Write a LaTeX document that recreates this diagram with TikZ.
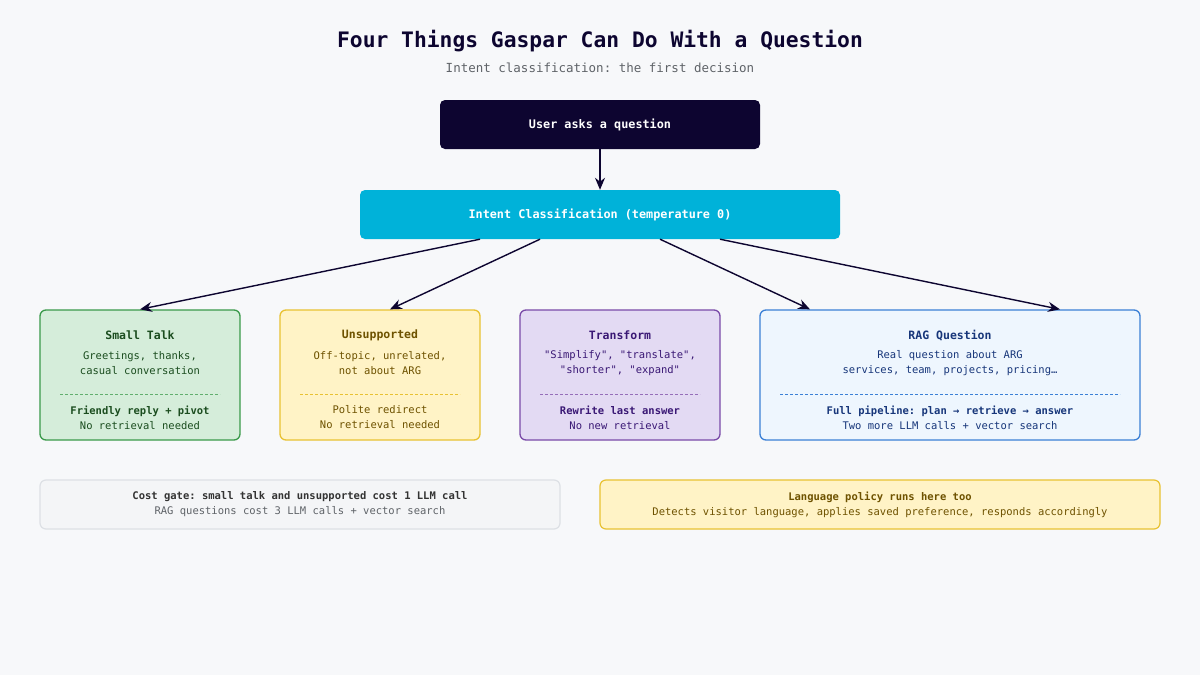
\documentclass[tikz,border=0pt]{standalone}
\usepackage{fontspec}
\setmonofont{DejaVu Sans Mono}
\usetikzlibrary{arrows.meta,calc,positioning}
\definecolor{bgcol}{HTML}{F7F8FA}
\definecolor{navy}{HTML}{0D0530}
\definecolor{cyanbox}{HTML}{00B2D9}
\definecolor{greenfill}{HTML}{D5EDDA}\definecolor{greenline}{HTML}{3A9A4A}\definecolor{greentext}{HTML}{1B4D1F}
\definecolor{yellowfill}{HTML}{FFF3C6}\definecolor{yellowline}{HTML}{E8C232}\definecolor{yellowtext}{HTML}{6E5200}
\definecolor{purplefill}{HTML}{E3DAF3}\definecolor{purpleline}{HTML}{7A4AA8}\definecolor{purpletext}{HTML}{3A1875}
\definecolor{bluefill}{HTML}{EEF6FE}\definecolor{blueline}{HTML}{3B80D6}\definecolor{bluetext}{HTML}{17367A}
\definecolor{grayfill}{HTML}{F4F5F7}\definecolor{grayline}{HTML}{DDE0E5}\definecolor{graytext}{HTML}{5F6368}
\tikzset{
  >={Stealth[length=12pt,width=10pt]},
  card/.style={rounded corners=6pt, line width=1.3pt, minimum height=130pt},
  cardtitle/.style={font=\ttfamily\bfseries\fontsize{11.5}{13}\selectfont},
  cardtext/.style={font=\ttfamily\fontsize{10.5}{15}\selectfont, align=center},
  cardfoot/.style={font=\ttfamily\fontsize{10.5}{15}\selectfont, align=center},
  sep/.style={dashed, dash pattern=on 3pt off 2pt, line width=0.9pt},
  flow/.style={->, line width=1.4pt, navy},
}
\begin{document}
\begin{tikzpicture}[x=1pt,y=-1pt]
  \fill[bgcol] (0,0) rectangle (1200,675);
  \useasboundingbox (0,0) rectangle (1200,675);
  % heading
  \node[font=\ttfamily\bfseries\fontsize{21.3}{24}\selectfont, text=navy] (title) at (600,41)
    {Four Things Gaspar Can Do With a Question};
  \node[font=\ttfamily\fontsize{12.5}{14}\selectfont, text=graytext] (subtitle) at (600,68)
    {Intent classification: the first decision};
  % top of the flow
  \node[fill=navy, rounded corners=5pt, minimum width=320pt, minimum height=49pt,
        text=white, font=\ttfamily\bfseries\fontsize{11.8}{13}\selectfont] (user) at (600,124.5)
    {User asks a question};
  \node[fill=cyanbox, rounded corners=5pt, minimum width=480pt, minimum height=49pt,
        text=white, font=\ttfamily\bfseries\fontsize{11.8}{13}\selectfont] (intent) at (600,214.5)
    {Intent Classification (temperature 0)};
  % the four intents
  \node[card, draw=greenline, fill=greenfill, minimum width=200pt] (small) at (140,375) {};
  \node[card, draw=yellowline, fill=yellowfill, minimum width=200pt] (unsup) at (380,375) {};
  \node[card, draw=purpleline, fill=purplefill, minimum width=200pt] (trans) at (620,375) {};
  \node[card, draw=blueline, fill=bluefill, minimum width=380pt] (rag) at (950,375) {};

  \node[cardtitle, text=greentext] (smallT) at ($(small.north)+(0,26)$) {Small Talk};
  \node[cardtext, text=greentext] (smallD) at ($(small.north)+(0,54)$) {Greetings, thanks,\\casual conversation};
  \draw[sep, greenline!80] ($(small.north)+(-80,85)$) -- ($(small.north)+(80,85)$);
  \node[cardfoot, text=greentext] (smallF) at ($(small.north)+(0,108)$) {\textbf{Friendly reply + pivot}\\No retrieval needed};

  \node[cardtitle, text=yellowtext] (unsupT) at ($(unsup.north)+(0,26)$) {Unsupported};
  \node[cardtext, text=yellowtext] (unsupD) at ($(unsup.north)+(0,54)$) {Off-topic, unrelated,\\not about ARG};
  \draw[sep, yellowline] ($(unsup.north)+(-80,85)$) -- ($(unsup.north)+(80,85)$);
  \node[cardfoot, text=yellowtext] (unsupF) at ($(unsup.north)+(0,108)$) {Polite redirect\\No retrieval needed};

  \node[cardtitle, text=purpletext] (transT) at ($(trans.north)+(0,26)$) {Transform};
  \node[cardtext, text=purpletext] (transD) at ($(trans.north)+(0,54)$) {"Simplify", "translate",\\"shorter", "expand"};
  \draw[sep, purpleline!80] ($(trans.north)+(-80,85)$) -- ($(trans.north)+(80,85)$);
  \node[cardfoot, text=purpletext] (transF) at ($(trans.north)+(0,108)$) {\textbf{Rewrite last answer}\\No new retrieval};

  \node[cardtitle, text=bluetext] (ragT) at ($(rag.north)+(0,26)$) {RAG Question};
  \node[cardtext, text=bluetext] (ragD) at ($(rag.north)+(0,54)$) {Real question about ARG\\services, team, projects, pricing\ldots};
  \draw[sep, blueline] ($(rag.north)+(-170,85)$) -- ($(rag.north)+(170,85)$);
  \node[cardfoot, text=bluetext] (ragF) at ($(rag.north)+(0,108)$) {\textbf{Full pipeline: plan → retrieve → answer}\\Two more LLM calls + vector search};
  % connectors
  \draw[flow] (user) -- (intent);
  \draw[flow] ([xshift=-120pt]intent.south) -- (small.north);
  \draw[flow] ([xshift=-60pt]intent.south) -- ([xshift=10pt]unsup.north);
  \draw[flow] ([xshift=60pt]intent.south) -- ([xshift=-140pt]rag.north);
  \draw[flow] ([xshift=120pt]intent.south) -- ([xshift=110pt]rag.north);
  % notes
  \node[rounded corners=6pt, draw=grayline, line width=1.2pt, fill=grayfill, minimum width=520pt,
        minimum height=49pt, text=graytext, cardtext] (cost) at (300,504.5)
    {{\color{black!80}\bfseries Cost gate: small talk and unsupported cost 1 LLM call}\\RAG questions cost 3 LLM calls + vector search};
  \node[rounded corners=6pt, draw=yellowline, line width=1.2pt, fill=yellowfill, minimum width=560pt,
        minimum height=49pt, text=yellowtext, cardtext] (lang) at (880,504.5)
    {\textbf{Language policy runs here too}\\Detects visitor language, applies saved preference, responds accordingly};
\end{tikzpicture}
\end{document}
